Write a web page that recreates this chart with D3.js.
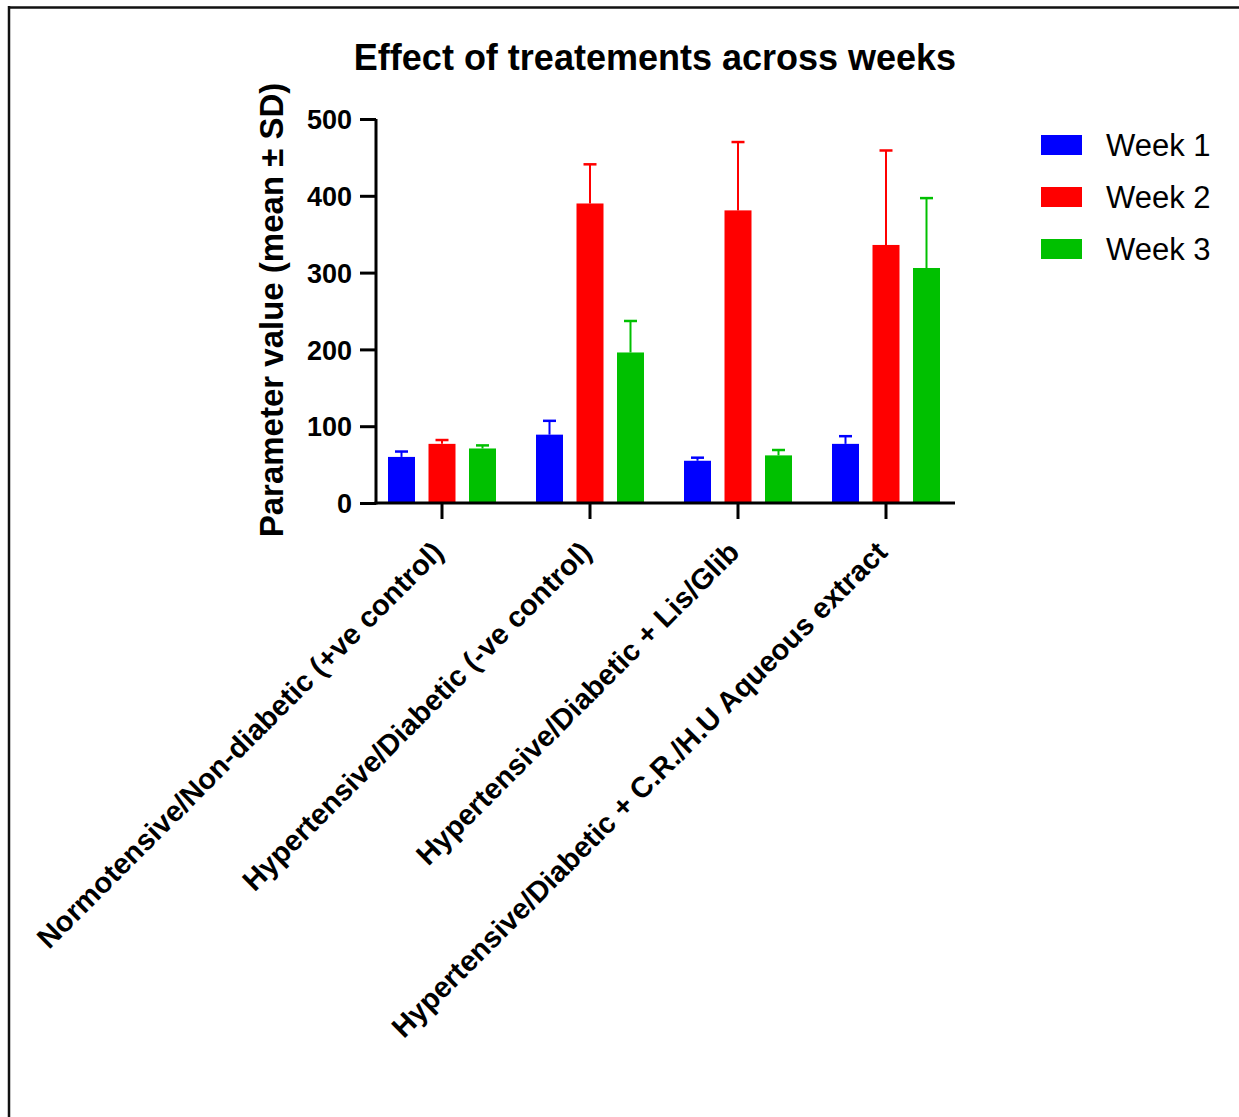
<!DOCTYPE html>
<html>
<head>
<meta charset="utf-8">
<script src="https://cdn.jsdelivr.net/npm/d3@7"></script>
<style>
  html, body { margin: 0; padding: 0; background: #fff; }
  svg { display: block; font-family: "Liberation Sans", Arial, sans-serif; }
</style>
</head>
<body>
<svg id="chart" width="1239" height="1117"></svg>
<script>
// Treatment groups along the x axis
const categories = [
  "Normotensive/Non-diabetic (+ve control)",
  "Hypertensive/Diabetic (-ve control)",
  "Hypertensive/Diabetic + Lis/Glib",
  "Hypertensive/Diabetic + C.R./H.U Aqueous extract"
];

// Series names and colours
const weeks = ["Week 1", "Week 2", "Week 3"];
const weekColors = ["#0000ff", "#ff0000", "#00c000"];

// Means and standard deviations per week, one value per treatment group
const week1Mean = [60, 89, 55, 77];
const week1SD   = [7, 18, 4, 10];
const week2Mean = [77, 390, 381, 336];
const week2SD   = [5, 51, 89, 123];
const week3Mean = [71, 196, 62, 306];
const week3SD   = [4, 41, 7, 91];

const yTicks = [0, 100, 200, 300, 400, 500];

const means = [week1Mean, week2Mean, week3Mean];
const sds = [week1SD, week2SD, week3SD];

// Flatten into records for the bar join
const records = [];
categories.forEach((c, ci) => {
  weeks.forEach((w, wi) => {
    records.push({ cat: c, week: w, mean: means[wi][ci], sd: sds[wi][ci] });
  });
});

// Layout
const plotLeft = 376, plotRight = 955, plotTop = 119, plotBottom = 503;
const svg = d3.select("#chart");

// Frame lines (top and left)
svg.append("line").attr("x1", 8).attr("x2", 1239).attr("y1", 7.5).attr("y2", 7.5)
  .attr("stroke", "#111").attr("stroke-width", 2.5);
svg.append("line").attr("x1", 9).attr("x2", 9).attr("y1", 6).attr("y2", 1117)
  .attr("stroke", "#111").attr("stroke-width", 2.5);

// Scales
const y = d3.scaleLinear().domain([0, 500]).range([plotBottom, plotTop]);
const x = d3.scaleBand().domain(categories).range([368, 960]).paddingInner(0).paddingOuter(0);
const xInner = d3.scaleBand().domain(weeks).range([-54, 54]).paddingInner(1 / 3);
const color = d3.scaleOrdinal().domain(weeks).range(weekColors);

const groupCenter = c => x(c) + x.bandwidth() / 2;

// Bars
const barG = svg.append("g");
barG.selectAll("rect").data(records).join("rect")
  .attr("x", d => groupCenter(d.cat) + xInner(d.week))
  .attr("width", xInner.bandwidth())
  .attr("y", d => y(d.mean))
  .attr("height", d => y(0) - y(d.mean))
  .attr("fill", d => color(d.week));

// Error bars (upper half only)
const errG = svg.append("g");
const capHalf = 6.5;
records.forEach(d => {
  const cx = groupCenter(d.cat) + xInner(d.week) + xInner.bandwidth() / 2;
  errG.append("line")
    .attr("x1", cx).attr("x2", cx)
    .attr("y1", y(d.mean)).attr("y2", y(d.mean + d.sd))
    .attr("stroke", color(d.week)).attr("stroke-width", 2);
  errG.append("line")
    .attr("x1", cx - capHalf).attr("x2", cx + capHalf)
    .attr("y1", y(d.mean + d.sd)).attr("y2", y(d.mean + d.sd))
    .attr("stroke", color(d.week)).attr("stroke-width", 2.5);
});

// Y axis
const yAxis = svg.append("g")
  .attr("transform", `translate(${plotLeft},0)`)
  .call(d3.axisLeft(y).tickValues(yTicks).tickSize(16).tickSizeOuter(0).tickPadding(8));
yAxis.select(".domain").attr("stroke", "#000").attr("stroke-width", 3)
  .attr("d", `M0,${plotTop}V${plotBottom + 1.5}`);
yAxis.selectAll(".tick line").attr("stroke", "#000").attr("stroke-width", 3);
yAxis.selectAll(".tick text")
  .attr("fill", "#000")
  .style("font-size", "27px").style("font-weight", "bold")
  .attr("dy", "0.36em");

// X axis
const xAxis = svg.append("g")
  .attr("transform", `translate(0,${plotBottom})`)
  .call(d3.axisBottom(x).tickSize(16).tickSizeOuter(0));
xAxis.select(".domain").attr("stroke", "#000").attr("stroke-width", 3)
  .attr("d", `M${plotLeft - 1.5},0H${plotRight}`);
xAxis.selectAll(".tick line").attr("stroke", "#000").attr("stroke-width", 3);
xAxis.selectAll(".tick text")
  .attr("fill", "#000")
  .style("font-size", "29px").style("font-weight", "bold")
  .attr("text-anchor", "end")
  .attr("y", 0).attr("dy", 0)
  .attr("transform", "translate(3,51) rotate(-45)");

// Y axis title
svg.append("text")
  .attr("transform", `translate(283,310) rotate(-90)`)
  .attr("text-anchor", "middle")
  .style("font-size", "33px").style("font-weight", "bold")
  .attr("fill", "#000")
  .text("Parameter value (mean \u00b1 SD)");

// Chart title
svg.append("text")
  .attr("x", 655).attr("y", 70)
  .attr("text-anchor", "middle")
  .style("font-size", "36px").style("font-weight", "bold")
  .attr("fill", "#000")
  .text("Effect of treatements across weeks");

// Legend
const legend = svg.append("g").attr("transform", "translate(1041,135)");
const rows = legend.selectAll("g").data(weeks).join("g")
  .attr("transform", (d, i) => `translate(0,${i * 52})`);
rows.append("rect").attr("width", 41).attr("height", 20).attr("fill", d => color(d));
rows.append("text")
  .attr("x", 65).attr("y", 21)
  .style("font-size", "31px")
  .attr("fill", "#000")
  .text(d => d);
</script>
</body>
</html>
